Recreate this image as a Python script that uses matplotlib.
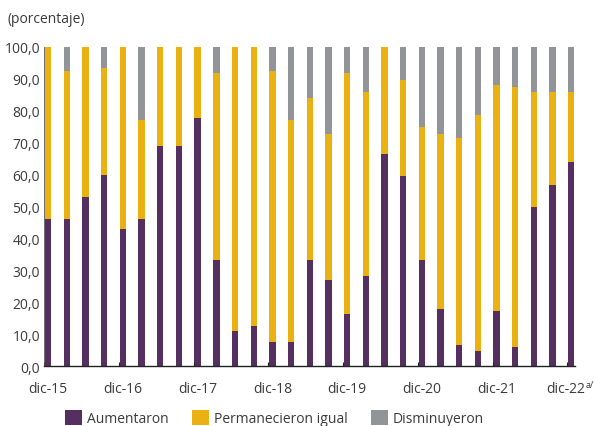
import numpy as np
import matplotlib.pyplot as plt
from matplotlib.ticker import FuncFormatter

plt.rcParams['font.family'] = ['Open Sans', 'DejaVu Sans']

# 29 trimestres, dic-15 a dic-22
etiquetas = ['dic-15', 'dic-16', 'dic-17', 'dic-18', 'dic-19', 'dic-20', 'dic-21', 'dic-22']
aumentaron = [46.0, 46.0, 53.0, 60.0, 43.0, 46.0, 69.0, 69.0, 77.8, 33.3,
              11.0, 12.5, 7.7, 7.7, 33.3, 27.0, 16.5, 28.2, 66.5, 59.7,
              33.3, 17.9, 6.7, 4.8, 17.2, 5.9, 50.0, 56.8, 64.0]
total_sin_dism = [100.0, 92.3, 100.0, 93.3, 100.0, 77.0, 100.0, 100.0, 100.0, 91.7,
                  100.0, 100.0, 92.3, 77.0, 84.0, 72.7, 91.7, 85.7, 100.0, 89.7,
                  75.0, 72.7, 71.4, 78.6, 88.2, 87.5, 85.7, 85.7, 85.7]
igual = [t - a for t, a in zip(total_sin_dism, aumentaron)]
disminuyeron = [100.0 - t for t in total_sin_dism]

c_aum = '#552f5f'
c_igual = '#ebb012'
c_dism = '#939497'
txt = '#3a3a3a'

fig, ax = plt.subplots(figsize=(5.94, 4.27), dpi=100)
fig.subplots_adjust(left=0.0746, right=0.968, top=0.888, bottom=0.14)

x = np.arange(len(aumentaron))
w = 0.34
ax.bar(x, aumentaron, w, color=c_aum, label='Aumentaron')
ax.bar(x, igual, w, bottom=aumentaron, color=c_igual, label='Permanecieron igual')
ax.bar(x, disminuyeron, w, bottom=total_sin_dism, color=c_dism, label='Disminuyeron')

ax.set_xlim(-0.21, 28.2)
ax.set_ylim(0, 100)
ax.set_yticks(np.arange(0, 101, 10))
ax.yaxis.set_major_formatter(FuncFormatter(lambda v, p: f'{v:.1f}'.replace('.', ',')))
ax.tick_params(axis='y', length=0, labelsize=10, labelcolor=txt, pad=3)

# marcas del eje x en los limites de categoria, etiquetas en las barras
ax.set_xticks(np.arange(0, 29, 4) - 0.21)
ax.set_xticklabels([])
ax.tick_params(axis='x', length=3, color='#222222', direction='in')
for i, lab in enumerate(etiquetas[:-1]):
    ax.text(i * 4, -4.5, lab, ha='center', va='top', fontsize=10, color=txt)
ax.text(28.72, -4.5, etiquetas[-1], ha='right', va='top', fontsize=10, color=txt)
ax.text(28.75, -4.2, 'a/', ha='left', va='top', fontsize=6.5, color=txt, clip_on=False)

for s in ['top', 'right']:
    ax.spines[s].set_visible(False)
ax.spines['left'].set_color('#555555')
ax.spines['bottom'].set_color('#222222')
ax.spines['left'].set_linewidth(0.6)
ax.spines['bottom'].set_linewidth(1.0)

fig.text(0.012, 0.955, '(porcentaje)', fontsize=10, color=txt, ha='left', va='center')

fig.legend(loc='center', bbox_to_anchor=(0.462, 0.018), ncol=3, frameon=False,
           fontsize=10, handlelength=1.2, handleheight=1.2, handletextpad=0.35,
           columnspacing=1.7, labelcolor=txt)

fig.savefig('out.png', dpi=100)
